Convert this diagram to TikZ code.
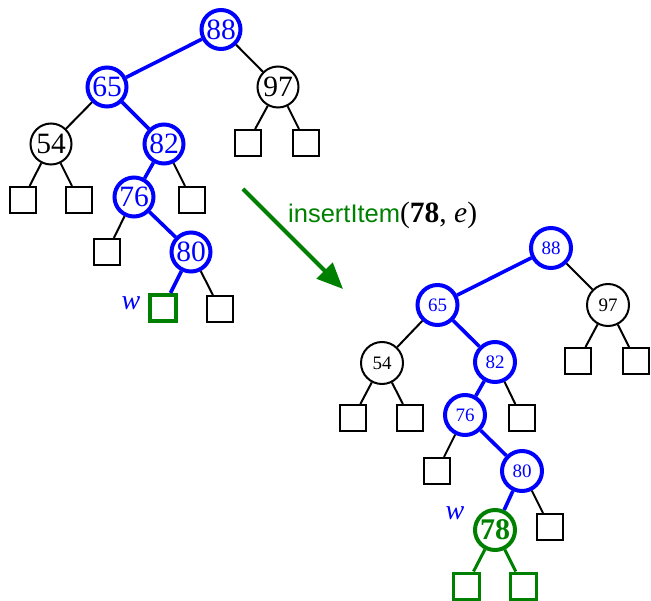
\documentclass[tikz,border=0pt]{standalone}
\usepackage{fontspec}
\setmainfont{Liberation Serif}
\setsansfont{Liberation Sans}
\usetikzlibrary{arrows.meta}
\definecolor{dgreen}{RGB}{0,128,0}
\tikzset{
  circbase/.style={circle, inner sep=0pt, draw},
  kcirc/.style={circbase, line width=2pt, minimum size=41pt},
  bcirc/.style={circbase, line width=4pt, minimum size=39pt, draw=blue, text=blue},
  gcirc/.style={circbase, line width=4pt, minimum size=40pt, draw=dgreen, text=dgreen},
  sq/.style={rectangle, inner sep=0pt, minimum size=26pt, draw, line width=2pt},
  gsq/.style={sq, draw=dgreen, line width=4pt},
  gsqt/.style={sq, draw=dgreen, line width=3pt},
  bigf/.style={font=\fontsize{29.5}{30}\selectfont},
  smallf/.style={font=\fontsize{19}{20}\selectfont},
  kedge/.style={line width=2pt, black},
  bedge/.style={line width=3.6pt, blue},
  gedge/.style={line width=3pt, dgreen},
  wlab/.style={text=blue, font=\fontsize{28}{30}\selectfont\itshape},
}
\begin{document}
\begin{tikzpicture}[x=1pt, y=-1pt]
\useasboundingbox (0,0) rectangle (651,601);
% ---------- left tree ----------
\node[bcirc, bigf] (L88) at (221,29.5) {88};
\node[bcirc, bigf] (L65) at (107,87) {65};
\node[kcirc, bigf] (L97) at (278,87) {97};
\node[kcirc, bigf] (L54) at (51,144) {54};
\node[bcirc, bigf] (L82) at (164,144) {82};
\node[bcirc, bigf] (L76) at (134,197) {76};
\node[bcirc, bigf] (L80) at (191,252) {80};
\node[sq] (L97a) at (247.5,143) {};
\node[sq] (L97b) at (306,143) {};
\node[sq] (L54a) at (22.5,200) {};
\node[sq] (L54b) at (79,200) {};
\node[sq] (L82b) at (192,200) {};
\node[sq] (L76a) at (107,252) {};
\node[gsq] (L80a) at (163,308) {};
\node[sq] (L80b) at (220,309) {};
\node[wlab] (Lw) at (131,303) {w};
\draw[bedge] (L88) -- (L65);
\draw[kedge] (L88) -- (L97);
\draw[kedge] (L97) -- (L97a);
\draw[kedge] (L97) -- (L97b);
\draw[kedge] (L65) -- (L54);
\draw[bedge] (L65) -- (L82);
\draw[kedge] (L54) -- (L54a);
\draw[kedge] (L54) -- (L54b);
\draw[bedge] (L82) -- (L76);
\draw[kedge] (L82) -- (L82b);
\draw[kedge] (L76) -- (L76a);
\draw[bedge] (L76) -- (L80);
\draw[bedge] (L80) -- (L80a);
\draw[kedge] (L80) -- (L80b);
% ---------- arrow ----------
\coordinate (As) at (243,189);
\coordinate (Ae) at (343,289);
\draw[line width=4pt, dgreen, -{Triangle[length=26pt,width=22pt]}] (As) -- (Ae);
\node[anchor=base west, inner sep=0pt] (lab) at (288,223)
  {\textcolor{dgreen}{\sffamily\fontsize{25.5}{26}\selectfont insertItem}{\fontsize{29.5}{30}\selectfont(\textbf{78}, \textit{e})}};
% ---------- right tree ----------
\node[bcirc, smallf, minimum size=40pt] (R88) at (551,248) {88};
\node[bcirc, smallf, minimum size=40pt] (R65) at (437.5,305) {65};
\node[kcirc, smallf, minimum size=42pt] (R97) at (608,305) {97};
\node[kcirc, smallf, minimum size=42pt] (R54) at (382,363) {54};
\node[bcirc, smallf, minimum size=40pt] (R82) at (495,362) {82};
\node[bcirc, smallf, minimum size=40pt] (R76) at (465,415) {76};
\node[bcirc, smallf, minimum size=40pt] (R80) at (522,471) {80};
\node[gcirc, font=\fontsize{30}{32}\selectfont\bfseries] (R78) at (495,530) {78};
\node[sq] (R97a) at (578,361) {};
\node[sq] (R97b) at (636,361) {};
\node[sq] (R54a) at (353,418) {};
\node[sq] (R54b) at (410,418) {};
\node[sq] (R82b) at (522,418) {};
\node[sq] (R76a) at (437,471) {};
\node[sq] (R80b) at (550,527) {};
\node[gsqt] (R78a) at (466,586) {};
\node[gsqt] (R78b) at (523,586) {};
\node[wlab] (Rw) at (455,513) {w};
\draw[bedge] (R88) -- (R65);
\draw[kedge] (R88) -- (R97);
\draw[kedge] (R97) -- (R97a);
\draw[kedge] (R97) -- (R97b);
\draw[kedge] (R65) -- (R54);
\draw[bedge] (R65) -- (R82);
\draw[kedge] (R54) -- (R54a);
\draw[kedge] (R54) -- (R54b);
\draw[bedge] (R82) -- (R76);
\draw[kedge] (R82) -- (R82b);
\draw[kedge] (R76) -- (R76a);
\draw[bedge] (R76) -- (R80);
\draw[bedge] (R80) -- (R78);
\draw[kedge] (R80) -- (R80b);
\draw[gedge] (R78) -- (R78a);
\draw[gedge] (R78) -- (R78b);
\end{tikzpicture}
\end{document}
